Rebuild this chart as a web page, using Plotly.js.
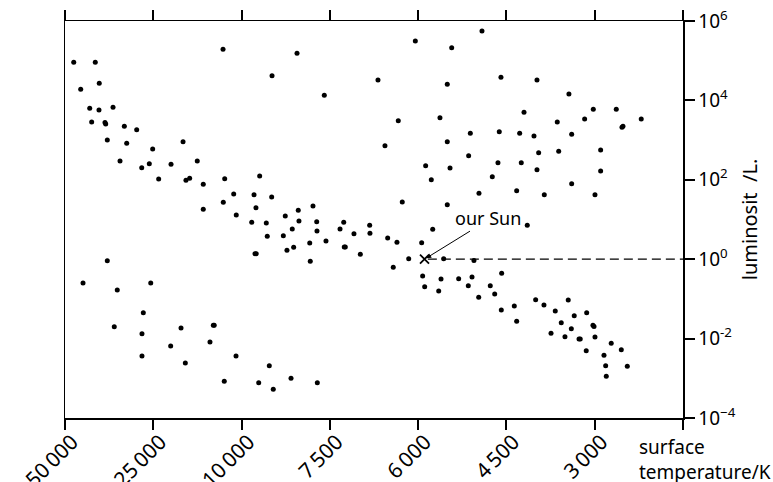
<!DOCTYPE html>
<html>
<head>
<meta charset="utf-8">
<script src="https://cdn.plot.ly/plotly-3.0.1.min.js"></script>
<style>
html,body{margin:0;padding:0;background:#fff;}
#chart{width:773px;height:482px;}
</style>
</head>
<body>
<div id="chart"></div>
<script>
// Temperature axis: equally spaced tick positions (0..7) carry these labels
const tempTickPos = [0, 1, 2, 3, 4, 5, 6, 7];
const tempTickLabels = ['50\u202F000', '25\u202F000', '10\u202F000', '7\u202F500', '6\u202F000', '4\u202F500', '3\u202F000', ''];
// Luminosity ticks (in solar units)
const lumTickVals = [1e-4, 1e-2, 1, 1e2, 1e4, 1e6];
const lumTickText = ['10<sup>\u22124</sup>', '10<sup>-2</sup>', '10<sup>0</sup>', '10<sup>2</sup>', '10<sup>4</sup>', '10<sup>6</sup>'];

// Stars: position on temperature scale, log10 luminosity
const starTempPos = [
 1.790,0.099,0.343,0.178,0.388,0.280,0.385,0.544,0.302,0.453,0.461,0.672,0.812,0.479,0.699,1.337,0.993,0.623,0.869,0.955,
 1.201,1.498,1.061,1.370,1.412,1.566,1.809,2.205,1.911,2.141,1.793,1.566,2.163,1.940,2.628,2.345,2.937,3.545,3.968,4.380,
 4.723,4.330,4.938,3.775,4.247,3.624,4.330,4.591,4.919,4.572,4.085,4.361,4.904,4.149,4.840,4.689,2.341,2.809,2.642,2.495,
 3.820,4.330,5.346,5.708,5.199,5.576,5.886,5.984,6.244,6.527,6.309,6.320,5.150,5.312,5.739,5.365,5.592,6.067,5.168,5.346,
 6.067,5.116,5.429,5.739,6.003,2.115,2.152,2.166,0.479,0.204,0.592,0.971,0.887,0.558,0.872,1.314,1.680,1.690,1.197,1.642,
 0.872,1.363,1.937,1.804,2.194,2.280,2.291,2.473,2.574,2.650,2.514,2.590,2.772,2.851,2.854,2.778,2.956,3.115,3.157,3.273,
 3.163,3.175,3.345,3.451,3.454,3.655,3.760,4.040,4.165,3.893,3.718,4.289,4.632,4.051,4.074,4.259,4.233,4.459,4.610,4.568,
 4.686,4.817,4.867,4.946,4.942,2.314,2.359,2.560,2.858,5.236,5.089,5.116,5.331,5.425,5.553,5.621,5.700,5.768,5.735,5.505,
 5.663,5.822,5.836,5.909,5.980,5.992,6.003,5.904,6.105,6.124,6.131,6.187,6.301,6.369
];
const starLogLum = [
 5.287,4.960,4.960,4.280,4.431,3.801,3.758,3.826,3.456,3.443,3.406,3.348,3.262,3.003,2.919,2.960,2.776,2.474,2.305,2.406,
 2.390,2.474,2.020,1.987,2.038,1.887,2.028,2.096,1.642,1.625,1.433,1.257,1.297,1.113,5.186,4.622,4.128,4.514,5.496,5.327,
 5.748,4.406,4.582,3.489,3.564,2.859,2.960,3.171,3.212,2.607,2.355,2.297,2.431,2.003,2.078,1.660,1.567,1.340,1.232,1.088,
 1.441,1.373,4.514,4.161,3.700,3.456,3.531,3.776,3.776,3.531,3.322,3.348,3.171,3.103,3.146,2.683,2.718,2.751,2.431,2.254,
 2.222,1.725,1.625,1.902,1.625,0.929,0.139,0.139,-0.038,-0.599,-0.776,-0.599,-1.348,-1.700,-1.877,-1.733,-1.665,-1.665,-2.186,-2.086,
 -2.438,-2.615,-2.438,-3.076,-3.111,0.912,0.577,0.592,0.761,0.962,0.224,0.300,0.408,0.945,0.710,-0.053,0.458,0.761,0.929,0.642,
 0.307,0.307,0.123,0.854,0.652,0.534,0.426,0.416,0.753,0.013,-0.204,0.013,-0.033,-0.423,-0.693,-0.499,-0.801,-0.491,-0.448,-0.668,
 -0.960,-0.668,-0.877,-0.355,-1.280,-2.683,-3.277,-3.000,-3.111,0.854,-1.179,-1.564,-1.020,-1.154,-1.305,-1.599,-1.028,-1.423,-1.751,-1.866,
 -1.952,-2.010,-2.010,-1.348,-1.665,-1.695,-1.960,-2.305,-2.421,-2.683,-2.950,-2.118,-2.280,-2.698
];
// Our Sun
const sunTempPos = [4.072];
const sunLum = [1];
// Reference line at L = 1 from the Sun to the right edge
const refLineTempPos = [4.11, 7];
const refLineLum = [1, 1];

const FONT = 'Noto Sans, sans-serif';

const traces = [
  {
    x: starTempPos, y: starLogLum.map(v => Math.pow(10, v)),
    type: 'scatter', mode: 'markers',
    marker: {color: '#000', size: 5},
    hoverinfo: 'skip', showlegend: false, cliponaxis: false
  },
  {
    x: refLineTempPos, y: refLineLum,
    type: 'scatter', mode: 'lines',
    line: {color: '#000', width: 1.3, dash: '9px,5px'},
    hoverinfo: 'skip', showlegend: false
  },
  {
    x: sunTempPos, y: sunLum,
    type: 'scatter', mode: 'markers',
    marker: {symbol: 'x-thin', size: 9, color: '#000', line: {color: '#000', width: 1.8}},
    hoverinfo: 'skip', showlegend: false
  }
];

const layout = {
  width: 773, height: 482,
  margin: {l: 65, r: 90, t: 21, b: 64},
  paper_bgcolor: '#fff', plot_bgcolor: '#fff',
  font: {family: FONT, size: 19, color: '#000'},
  showlegend: false,
  xaxis: {
    range: [0, 7], type: 'linear',
    tickmode: 'array', tickvals: tempTickPos, ticktext: tempTickLabels,
    tickangle: -45,
    ticks: 'outside', ticklen: 10, tickwidth: 2, tickcolor: '#000',
    ticklabelstandoff: -8, ticklabelshift: 7,
    showline: true, linecolor: '#000', linewidth: 1.5, mirror: 'ticks',
    showgrid: false, zeroline: false,
    tickfont: {family: FONT, size: 21, color: '#000'}
  },
  yaxis: {
    type: 'log', range: [-4, 6], side: 'right',
    tickmode: 'array', tickvals: lumTickVals, ticktext: lumTickText,
    ticks: 'outside', ticklen: 10, tickwidth: 2, tickcolor: '#000',
    showline: true, linecolor: '#000', linewidth: 1.5, mirror: true,
    showgrid: false, zeroline: false,
    tickfont: {family: FONT, size: 19, color: '#000'}
  },
  annotations: [
    {
      x: sunTempPos[0], y: 0, xref: 'x', yref: 'y',
      text: '', showarrow: true, arrowhead: 2, arrowsize: 1, arrowwidth: 1,
      arrowcolor: '#000', ax: 47, ay: -29, standoff: 2
    },
    {
      x: 4.791, y: 1.04, xref: 'x', yref: 'y',
      text: 'our Sun', showarrow: false, xanchor: 'center', yanchor: 'middle',
      font: {family: FONT, size: 18, color: '#000'}
    },
    {
      x: 0.9256, y: -0.035, xref: 'paper', yref: 'paper',
      text: 'surface<br>temperature/K', showarrow: false,
      xanchor: 'left', yanchor: 'top', align: 'left',
      font: {family: FONT, size: 19, color: '#000'}
    },
    {
      x: 1.108, y: 0.5, xref: 'paper', yref: 'paper',
      text: 'luminosit\u00A0 /L.', showarrow: false, textangle: -90,
      xanchor: 'center', yanchor: 'middle',
      font: {family: FONT, size: 20, color: '#000'}
    }
  ]
};

Plotly.newPlot('chart', traces, layout, {staticPlot: true, displayModeBar: false});
</script>
</body>
</html>
